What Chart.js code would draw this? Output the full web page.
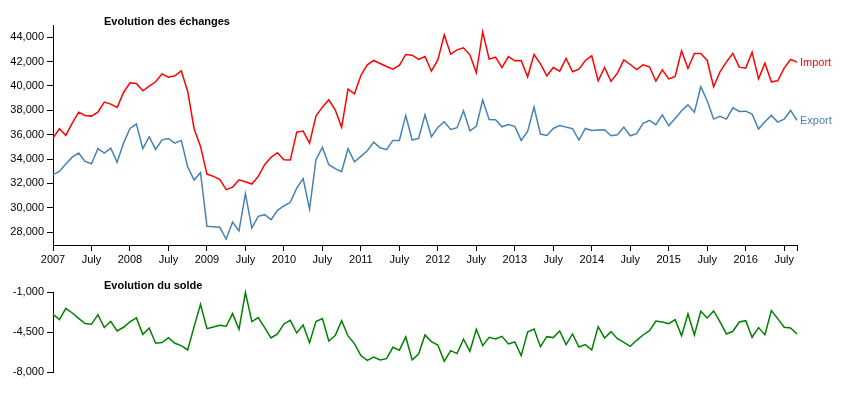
<!DOCTYPE html>
<html lang="fr">
  <head>
    <meta charset="UTF-8" />
    <title>Evolution des échanges</title>
    <style>
      body { margin: 0; background: #fff; }
      #haut, #bas { position: absolute; left: 0; }
      #haut { top: 0; }
      #bas { top: 270px; }
    </style>
  </head>
  <body>
    <div id="haut" style="width: 847px; height: 270px"><canvas id="lienzoHaut"></canvas></div>
    <div id="bas" style="width: 847px; height: 123px"><canvas id="lienzoBas"></canvas></div>

    <script src="https://cdn.jsdelivr.net/npm/chart.js"></script>

    <script>
      // mois depuis janvier 2007 (0 = 2007-01, 116 = 2016-09)
      const importations = [
        35720, 36490, 35940, 36950, 37850, 37580, 37525, 37850, 38670, 38510, 38235, 39465,
        40260, 40200, 39600, 39980, 40340, 40990, 40720, 40830, 41240, 39550, 36490, 35040,
        32770, 32580, 32330, 31490, 31700, 32300, 32140, 31950, 32580, 33540, 34140, 34520,
        33950, 33920, 36210, 36300, 35310, 37525, 38260, 38860, 38040, 36600, 39740, 39355,
        40860, 41730, 42090, 41840, 41600, 41380, 41680, 42580, 42520, 42170, 42415, 41210,
        42140, 44190, 42610, 42960, 43130, 42550, 41080, 44440, 42200, 42360, 41510, 42410,
        42060, 42090, 40750, 42580, 41810, 40830, 41510, 41210, 42250, 41160, 41380, 42090,
        42470, 40420, 41510, 40370, 41050, 42140, 41760, 41350, 41730, 41570, 40390, 41320,
        40580, 40780, 42880, 41430, 42660, 42660, 42090, 39930, 41160, 41980, 42660, 41540,
        41460, 42770, 40580, 41870, 40340, 40420, 41460, 42170, 41950,
      ];
      const exportations = [
        32720, 32990, 33590, 34160, 34490, 33810, 33620, 34850, 34490, 34900, 33750, 35310,
        36510, 36870, 34850, 35830, 34790, 35580, 35690, 35310, 35530, 33370, 32280, 32900,
        28480, 28450, 28400, 27440, 28830, 28100, 31160, 28340, 29300, 29440, 29030, 29790,
        30150, 30450, 31620, 32390, 29900, 33950, 34960, 33540, 33210, 32960, 34850, 33780,
        34220, 34680, 35390, 34930, 34770, 35530, 35530, 37580, 35560, 35690, 37630, 35830,
        36600, 37060, 36430, 36570, 37960, 36320, 36680, 38840, 37250, 37220, 36650, 36840,
        36680, 35530, 36270, 38260, 36050, 35940, 36510, 36760, 36620, 36490, 35560, 36510,
        36350, 36380, 36400, 35910, 35990, 36620, 35910, 36080, 36930, 37170, 36820, 37630,
        36730, 37330, 37960, 38450, 37850, 39930, 38780, 37280, 37500, 37280, 38210, 37910,
        37930, 37690, 36460, 37060, 37580, 37030, 37280, 37990, 37170,
      ];
      const solde = [
        -2925, -3390, -2400, -2810, -3275, -3740, -3800, -2955, -4090, -3540, -4380, -4060,
        -3595, -3245, -4675, -4120, -5460, -5400, -4965, -5460, -5665, -6045, -4005, -2050,
        -4180, -4035, -3890, -3975, -2865, -4235, -1000, -3565, -3215, -4090, -4995, -4645,
        -3770, -3450, -4560, -3860, -5405, -3565, -3305, -5260, -4790, -3480, -4820, -5490,
        -6540, -6950, -6660, -6920, -6805, -5810, -6075, -4910, -6920, -6395, -4735, -5315,
        -5610, -7035, -6105, -6365, -5110, -6160, -4240, -5665, -4935, -5085, -4850, -5520,
        -5345, -6540, -4470, -4210, -5755, -4880, -4965, -4385, -5580, -4645, -5785, -5580,
        -6045, -4005, -4995, -4440, -5055, -5375, -5725, -5200, -4735, -4355, -3510, -3600,
        -3740, -3390, -4790, -2895, -4735, -2660, -3245, -2635, -3595, -4645, -4410, -3595,
        -3480, -4935, -4090, -4705, -2605, -3305, -4060, -4120, -4645,
      ];

      const ticksMois = [0, 6, 12, 18, 24, 30, 36, 42, 48, 54, 60, 66, 72, 78, 84, 90, 96, 102, 108, 114, 116];
      const etiquettesMois = [
        "2007", "July", "2008", "July", "2009", "July", "2010", "July", "2011", "July",
        "2012", "July", "2013", "July", "2014", "July", "2015", "July", "2016", "July", "",
      ];
      const ticksEchanges = [28000, 30000, 32000, 34000, 36000, 38000, 40000, 42000, 44000];
      const ticksSolde = [-8000, -4500, -1000];

      Chart.defaults.font.family = "'Liberation Sans', Arial, sans-serif";
      Chart.defaults.font.size = 11;
      Chart.defaults.color = "#000";

      const points = (valeurs) => valeurs.map((v, i) => ({ x: i, y: v }));

      // titre et libellés en bout de courbe
      const textes = {
        id: "textes",
        afterDatasetsDraw(chart, args, opts) {
          const ctx = chart.ctx;
          ctx.save();
          ctx.font = "bold 11px 'Liberation Sans', Arial, sans-serif";
          ctx.fillStyle = "#000";
          ctx.textBaseline = "alphabetic";
          ctx.textAlign = "left";
          ctx.fillText(opts.titre, 104, opts.titreY);
          ctx.font = "11px 'Liberation Sans', Arial, sans-serif";
          ctx.textBaseline = "middle";
          chart.data.datasets.forEach((ds, k) => {
            if (!ds.etiquette) return;
            const meta = chart.getDatasetMeta(k);
            const dernier = meta.data[meta.data.length - 1];
            ctx.fillStyle = ds.borderColor;
            ctx.fillText(ds.etiquette, dernier.x + 3, dernier.y + 1);
          });
          ctx.restore();
        },
      };

      const axeY = (min, max, valeurs) => ({
        type: "linear",
        min: min,
        max: max,
        border: { display: true, color: "#000", width: 1 },
        grid: { drawOnChartArea: false, drawTicks: true, tickLength: 6, color: "#000" },
        ticks: {
          padding: 3,
          callback: (v) => v.toLocaleString("en-US"),
        },
        afterBuildTicks: (ax) => {
          ax.ticks = valeurs.map((v) => ({ value: v }));
        },
        afterFit: (ax) => {
          ax.width = 53;
        },
      });

      const lienzoHaut = document.querySelector("#lienzoHaut");
      const graficoHaut = new Chart(lienzoHaut, {
        type: "line",
        data: {
          datasets: [
            {
              etiquette: "Import",
              data: points(importations),
              borderColor: "#ff0000",
              borderWidth: 1.5,
              pointRadius: 0,
              tension: 0,
              clip: false,
            },
            {
              etiquette: "Export",
              data: points(exportations),
              borderColor: "#4682b4",
              borderWidth: 1.5,
              pointRadius: 0,
              tension: 0,
              clip: false,
            },
          ],
        },
        options: {
          responsive: true,
          maintainAspectRatio: false,
          animation: false,
          events: [],
          layout: { padding: { left: 0, right: 50, top: 25, bottom: 0 } },
          plugins: {
            legend: { display: false },
            tooltip: { enabled: false },
            textes: { titre: "Evolution des échanges", titreY: 25 },
          },
          scales: {
            x: {
              type: "linear",
              min: 0,
              max: 116,
              border: { display: true, color: "#000", width: 1 },
              grid: { drawOnChartArea: false, drawTicks: true, tickLength: 6, color: "#000" },
              ticks: {
                padding: 2,
                maxRotation: 0,
                autoSkip: false,
                callback: (v, i) => etiquettesMois[i],
              },
              afterBuildTicks: (ax) => {
                ax.ticks = ticksMois.map((v) => ({ value: v }));
              },
              afterFit: (ax) => {
                ax.height = 25;
              },
            },
            y: axeY(26950, 45000, ticksEchanges),
          },
        },
        plugins: [textes],
      });

      const lienzoBas = document.querySelector("#lienzoBas");
      const graficoBas = new Chart(lienzoBas, {
        type: "line",
        data: {
          datasets: [
            {
              data: points(solde),
              borderColor: "#008000",
              borderWidth: 1.5,
              pointRadius: 0,
              tension: 0,
              clip: false,
            },
          ],
        },
        options: {
          responsive: true,
          maintainAspectRatio: false,
          animation: false,
          events: [],
          layout: { padding: { left: 0, right: 50, top: 22.3, bottom: 20.7 } },
          plugins: {
            legend: { display: false },
            tooltip: { enabled: false },
            textes: { titre: "Evolution du solde", titreY: 19 },
          },
          scales: {
            x: { type: "linear", min: 0, max: 116, display: false },
            y: axeY(-8000, -1000, ticksSolde),
          },
        },
        plugins: [textes],
      });
    </script>
  </body>
</html>
